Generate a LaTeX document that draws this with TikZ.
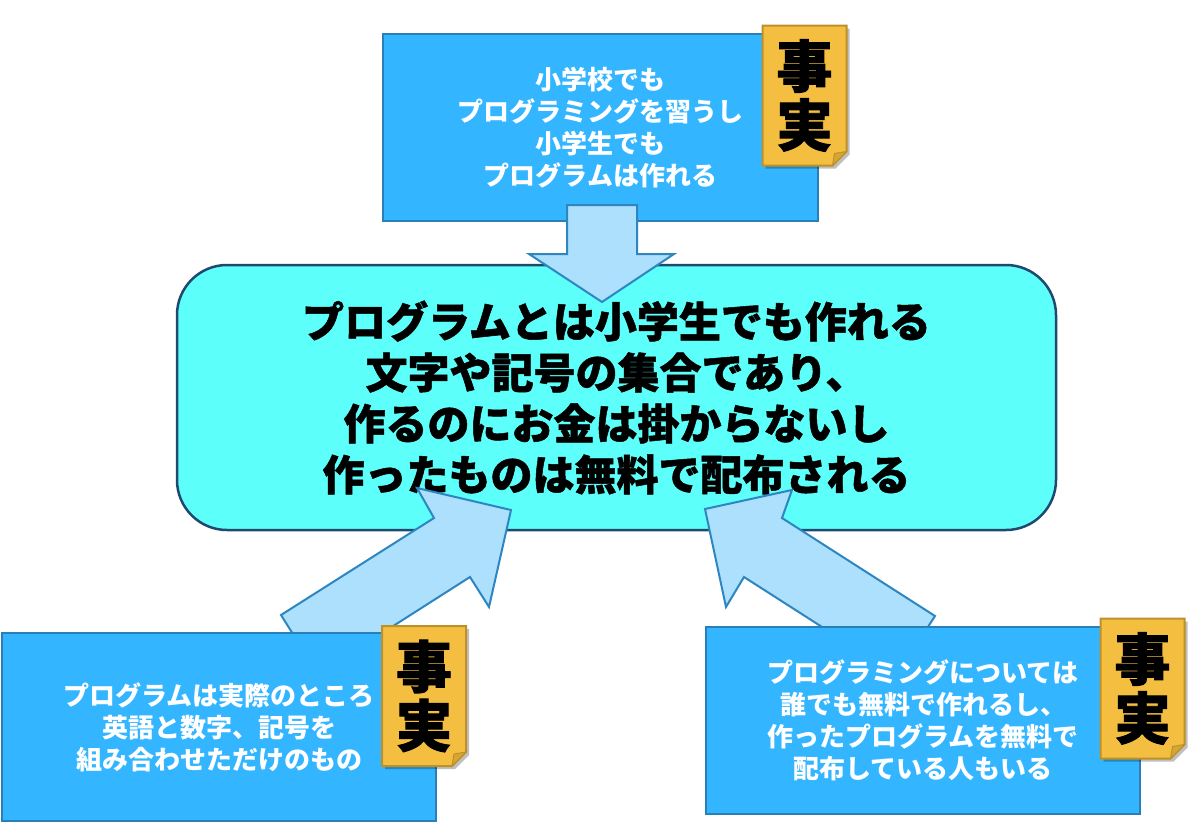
\documentclass[tikz,border=0pt]{standalone}
\usepackage{fontspec}
\newfontfamily\jp{Noto Sans CJK JP}
\newfontfamily\jpmain{Noto Sans CJK JP}[FakeBold=1.2]
\newfontfamily\jpheavy{Noto Sans CJK JP}[FakeBold=1.6]
\definecolor{boxfill}{RGB}{51,181,255}
\definecolor{boxline}{RGB}{41,128,185}
\definecolor{mainfill}{RGB}{93,255,250}
\definecolor{mainline}{RGB}{31,73,110}
\definecolor{arrowfill}{RGB}{173,224,252}
\definecolor{arrowline}{RGB}{46,134,193}
\definecolor{tagfill}{RGB}{244,190,64}
\definecolor{tagline}{RGB}{190,145,40}
\definecolor{tagfold}{RGB}{215,165,50}
\begin{document}
\begin{tikzpicture}[x=1pt,y=-1pt,
  factbox/.style={draw=boxline, fill=boxfill, line width=2pt, text=white,
    font=\jp\bfseries\fontsize{26}{32}\selectfont, align=center, inner sep=0pt},
  mainbox/.style={draw=mainline, fill=mainfill, line width=2.5pt, rounded corners=50pt,
    text=black, font=\jpmain\bfseries\fontsize{42}{51}\selectfont, align=center, inner sep=0pt},
  blockarrow/.style={draw=arrowline, fill=arrowfill, line width=2pt, line join=miter},
  tagtext/.style={font=\jpheavy\bfseries\fontsize{56}{59}\selectfont, text=black, align=center, inner sep=0pt},
  facttag/.pic={
    \fill[black,opacity=0.25] (-39,-67) -- (45,-67) -- (45,59) -- (31,73) -- (-39,73) -- cycle;
    \draw[draw=tagline, fill=tagfill, line width=2pt] (-42,-70) -- (42,-70) -- (42,56) -- (28,70) -- (-42,70) -- cycle;
    \draw[draw=tagline, fill=tagfold, line width=1pt] (42,56) -- (28,70) -- (30,58) -- cycle;
    \node[tagtext] (txt) at (0,0) {事\\実};
  }]
\useasboundingbox (0,0) rectangle (1200,822);
\fill[white] (0,0) rectangle (1200,822);

\node[factbox, minimum width=435pt, minimum height=187pt] (top) at (600.5,127.5)
  {小学校でも\\プログラミングを習うし\\小学生でも\\プログラムは作れる};

\node[mainbox, minimum width=879pt, minimum height=265pt] (main) at (616.5,397.5)
  {プログラムとは小学生でも作れる\\文字や記号の集合であり、\\作るのにお金は掛からないし\\作ったものは無料で配布される};

% arrows
\draw[blockarrow] (567,205) -- (637,205) -- (637,254) -- (674,254) -- (602,302) -- (529,254) -- (567,254) -- cycle;
\draw[blockarrow] (281,615) -- (434,518) -- (417,488) -- (511,510) -- (489,607) -- (470,577) -- (318,674) -- cycle;
\draw[blockarrow] (935,616) -- (782,518) -- (792,490) -- (705,509) -- (726,607) -- (744,577) -- (897,675) -- cycle;

\node[factbox, minimum width=434pt, minimum height=188pt] (bl) at (219,727)
  {プログラムは実際のところ\\英語と数字、記号を\\組み合わせただけのもの};

\node[factbox, minimum width=434pt, minimum height=187pt] (br) at (923,720.5)
  {プログラミングについては\\誰でも無料で作れるし、\\作ったプログラムを無料で\\配布している人もいる};

\pic (tagtop) at (804.5,95.5) {facttag};
\pic (tagbl) at (424,696) {facttag};
\pic (tagbr) at (1142.5,688.5) {facttag};
\end{tikzpicture}
\end{document}
